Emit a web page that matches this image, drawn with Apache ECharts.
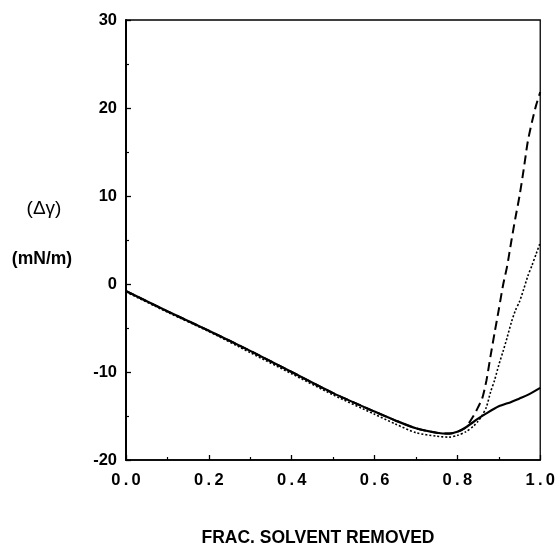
<!DOCTYPE html>
<html>
<head>
<meta charset="utf-8">
<script src="https://cdn.jsdelivr.net/npm/echarts@6/dist/echarts.min.js"></script>
<style>
  html, body { margin: 0; padding: 0; background: #fff; }
  #chart { width: 558px; height: 545px; }
</style>
</head>
<body>
<div id="chart"></div>
<script>
// Fraction of solvent removed (x) for each curve
const fracSolid = [0, 0.1, 0.2, 0.3, 0.4, 0.5, 0.6, 0.65, 0.7, 0.75, 0.78, 0.8, 0.82, 0.85, 0.87, 0.9, 0.93, 0.95, 0.97, 1.0];
const gammaSolid = [-0.8, -3.1, -5.3, -7.6, -10.0, -12.4, -14.5, -15.5, -16.4, -16.9, -17.0, -16.8, -16.3, -15.3, -14.7, -13.9, -13.4, -13.0, -12.6, -11.8];

const fracDashed = [0, 0.1, 0.2, 0.3, 0.4, 0.5, 0.6, 0.65, 0.7, 0.75, 0.78, 0.8, 0.82, 0.84, 0.85, 0.86, 0.87, 0.88, 0.89, 0.9, 0.91, 0.92, 0.93, 0.94, 0.95, 0.96, 0.97, 0.98, 0.99, 1.0];
const gammaDashed = [-0.8, -3.1, -5.3, -7.6, -10.0, -12.4, -14.5, -15.5, -16.4, -16.9, -17.0, -16.8, -16.3, -14.9, -14.0, -13.0, -11.0, -8.2, -5.5, -2.9, -0.2, 2.0, 4.8, 7.5, 10.0, 13.0, 16.2, 18.4, 20.3, 21.8];

const fracDotted = [0, 0.1, 0.2, 0.3, 0.4, 0.5, 0.6, 0.65, 0.7, 0.75, 0.78, 0.8, 0.82, 0.84, 0.85, 0.86, 0.87, 0.88, 0.89, 0.9, 0.91, 0.92, 0.93, 0.94, 0.95, 0.96, 0.97, 0.98, 0.99, 1.0];
const gammaDotted = [-0.9, -3.2, -5.4, -7.8, -10.2, -12.6, -14.8, -15.9, -16.9, -17.3, -17.4, -17.2, -16.8, -16.1, -15.6, -14.9, -14.0, -12.3, -10.9, -9.2, -7.7, -6.1, -4.4, -3.0, -2.0, -0.6, 0.9, 2.1, 3.4, 4.7];

// Axis ranges and tick spacing
const xRange = [0, 1];
const xStep = 0.2;
const yRange = [-20, 30];
const yStep = 10;

const xTitle = 'FRAC. SOLVENT REMOVED';
const yTitleTop = '(\u0394\u03b3)';
const yTitleBottom = '(mN/m)';

const FONT = '"Liberation Sans", Arial, Helvetica, sans-serif';
const THIN = '\u2009';

function pairs(xs, ys) {
  return xs.map((x, i) => [x, ys[i]]);
}

const chart = echarts.init(document.getElementById('chart'), null, { renderer: 'canvas' });

chart.setOption({
  backgroundColor: '#ffffff',
  animation: false,
  grid: {
    left: 126, right: 17, top: 20, bottom: 85,
    show: true, borderColor: '#000', borderWidth: 1.3
  },
  xAxis: {
    type: 'value',
    min: xRange[0], max: xRange[1], interval: xStep,
    axisLine: { show: true, onZero: false, lineStyle: { color: '#000', width: 1.6 } },
    axisTick: { show: true, inside: true, length: 5, lineStyle: { color: '#000', width: 1.3 } },
    minorTick: { show: true, splitNumber: 2, length: 3, lineStyle: { color: '#000', width: 1.2 } },
    splitLine: { show: false },
    axisLabel: {
      margin: 12, color: '#000', fontFamily: FONT, fontWeight: 'bold', fontSize: 16.5,
      formatter: v => v.toFixed(1).split('').join(THIN)
    }
  },
  yAxis: {
    type: 'value',
    min: yRange[0], max: yRange[1], interval: yStep,
    axisLine: { show: true, onZero: false, lineStyle: { color: '#000', width: 2 } },
    axisTick: { show: true, inside: true, length: 5, lineStyle: { color: '#000', width: 1.3 } },
    minorTick: { show: true, splitNumber: 2, length: 3, lineStyle: { color: '#000', width: 1.2 } },
    splitLine: { show: false },
    axisLabel: {
      margin: 9, color: '#000', fontFamily: FONT, fontWeight: 'bold', fontSize: 16.5
    }
  },
  graphic: [
    {
      type: 'text',
      style: {
        text: xTitle, x: 318, y: 538, align: 'center', verticalAlign: 'middle',
        font: 'bold 17.5px ' + FONT, fill: '#000'
      }
    },
    {
      type: 'text',
      style: {
        text: yTitleTop, x: 44, y: 209, align: 'center', verticalAlign: 'middle',
        font: '19px ' + FONT, fill: '#000'
      }
    },
    {
      type: 'text',
      style: {
        text: yTitleBottom, x: 42, y: 259, align: 'center', verticalAlign: 'middle',
        font: 'bold 17.5px ' + FONT, fill: '#000'
      }
    }
  ],
  series: [
    {
      type: 'line', name: 'solid', data: pairs(fracSolid, gammaSolid),
      showSymbol: false, smooth: 0.25, clip: true,
      lineStyle: { color: '#000', width: 2.2, type: 'solid' }
    },
    {
      type: 'line', name: 'dashed', data: pairs(fracDashed, gammaDashed),
      showSymbol: false, smooth: 0.25, clip: true,
      lineStyle: { color: '#000', width: 2, type: [9, 5] }
    },
    {
      type: 'line', name: 'dotted', data: pairs(fracDotted, gammaDotted),
      showSymbol: false, smooth: 0.25, clip: true,
      lineStyle: { color: '#000', width: 1.6, type: [2, 2] }
    }
  ]
});
</script>
</body>
</html>
